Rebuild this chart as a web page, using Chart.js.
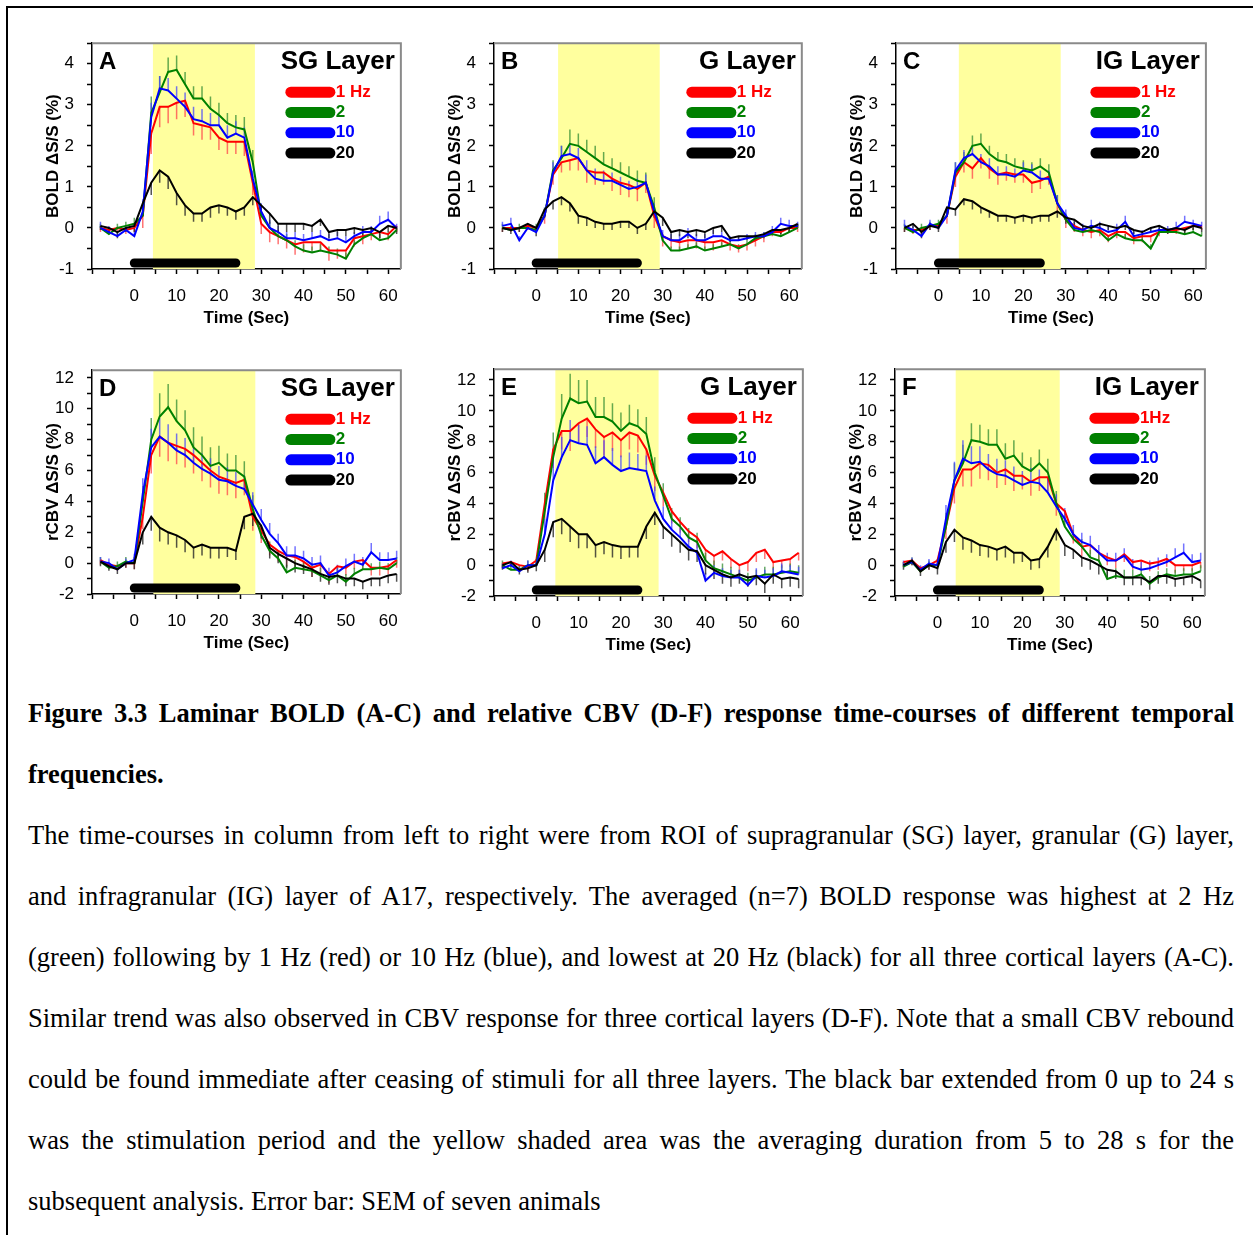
<!DOCTYPE html>
<html>
<head>
<meta charset="utf-8">
<title>Figure 3.3 Laminar BOLD and CBV time-courses</title>
<script src="https://cdn.jsdelivr.net/npm/chart.js@4.4.1/dist/chart.umd.min.js"></script>
<style>
  html, body { margin: 0; padding: 0; background: #fff; }
  body { width: 1253px; height: 1235px; position: relative; overflow: hidden; }
  #frame { position: absolute; left: 6px; top: 6px; width: 1260px; height: 1240px; border-top: 2px solid #000; border-left: 2px solid #000; }
  canvas { position: absolute; }
  #caption { position: absolute; left: 28px; top: 683px; width: 1206px; font-family: "Liberation Serif", "Times New Roman", serif; font-size: 26.5px; line-height: 61px; color: #000; }
  #caption .ln { white-space: nowrap; }
  #caption .j { text-align: justify; text-align-last: justify; }
  #caption .b { font-weight: bold; }
</style>
</head>
<body>
<div id="frame"></div>
<canvas id="chartA"></canvas>
<canvas id="chartB"></canvas>
<canvas id="chartC"></canvas>
<canvas id="chartD"></canvas>
<canvas id="chartE"></canvas>
<canvas id="chartF"></canvas>

<div id="caption">
  <div class="ln b j">Figure 3.3 Laminar BOLD (A-C) and relative CBV (D-F) response time-courses of different temporal</div>
  <div class="ln b">frequencies.</div>
  <div class="ln j">The time-courses in column from left to right were from ROI of supragranular (SG) layer, granular (G) layer,</div>
  <div class="ln j">and infragranular (IG) layer of A17, respectively. The averaged (n=7) BOLD response was highest at 2 Hz</div>
  <div class="ln j">(green) following by 1 Hz (red) or 10 Hz (blue), and lowest at 20 Hz (black) for all three cortical layers (A-C).</div>
  <div class="ln j">Similar trend was also observed in CBV response for three cortical layers (D-F). Note that a small CBV rebound</div>
  <div class="ln j">could be found immediate after ceasing of stimuli for all three layers. The black bar extended from 0 up to 24 s</div>
  <div class="ln j">was the stimulation period and the yellow shaded area was the averaging duration from 5 to 28 s for the</div>
  <div class="ln">subsequent analysis. Error bar: SEM of seven animals</div>
</div>

<script>
// sample times (s), every 2 s
const timeSec = [-8,-6,-4,-2,0,2,4,6,8,10,12,14,16,18,20,22,24,26,28,30,32,34,36,38,40,42,44,46,48,50,52,54,56,58,60,62];

const freqLabels = ['1 Hz', '2', '10', '20'];
const freqLabelsF = ['1Hz', '2', '10', '20'];

// stimulation bar and yellow averaging window (s)
const stimPeriod = [0, 24];
const shadeStart = [4.4, 5.2, 4.8, 4.5, 4.5, 4.3];
const shadeEnd = [28.5, 29.3, 28.8, 28.6, 28.9, 28.8];

// y ranges
const boldRange = [-1, 4.5];
const cbvRangeD = [-2, 12.5];
const cbvRangeEF = [-2, 12.7];

// ---- A: BOLD, SG layer
const aRed = [0.0,-0.05,0.0,-0.05,0.0,0.3, 2.3,2.95,2.95,3.05,3.1,2.55, 2.5,2.45,2.2,2.1,2.1,2.1, 1.1,0.1,-0.1,-0.2,-0.3,-0.4, -0.35,-0.35,-0.35,-0.55,-0.55,-0.55, -0.25,-0.2,-0.15,-0.1,-0.15,0.05];
const aGreen = [0.0,-0.15,0.0,0.05,0.1,0.3, 2.8,3.3,3.8,3.85,3.5,3.15, 3.15,2.9,2.75,2.55,2.45,2.4, 1.6,0.3,0.0,-0.2,-0.3,-0.45, -0.55,-0.6,-0.55,-0.6,-0.65,-0.75, -0.4,-0.25,-0.15,-0.3,-0.25,-0.05];
const aBlue = [0.0,-0.1,-0.2,-0.05,-0.2,0.4, 2.7,3.4,3.35,3.15,2.95,2.65, 2.6,2.5,2.5,2.2,2.3,2.2, 1.2,0.4,0.0,-0.1,-0.25,-0.25, -0.3,-0.25,-0.2,-0.3,-0.25,-0.35, -0.2,-0.1,-0.1,0.1,0.2,0.0];
const aBlack = [0.05,0.0,-0.1,0.0,0.05,0.6, 1.1,1.4,1.25,0.85,0.55,0.35, 0.35,0.5,0.55,0.5,0.4,0.5, 0.75,0.55,0.35,0.1,0.1,0.1, 0.1,0.05,0.2,-0.1,-0.05,-0.05, 0.0,-0.05,0.0,-0.1,0.05,0.0];
const aRedErr = [0.1,0.1,0.1,0.1,0.1,0.3, 0.5,0.5,0.4,0.4,0.4,0.3, 0.35,0.3,0.3,0.3,0.3,0.35, 0.3,0.25,0.25,0.2,0.2,0.25, 0.25,0.2,0.2,0.25,0.2,0.2, 0.2,0.2,0.15,0.15,0.15,0.15];
const aGreenErr = [0.1,0.15,0.1,0.1,0.15,0.3, 0.4,0.4,0.35,0.35,0.3,0.3, 0.3,0.3,0.3,0.25,0.3,0.3, 0.3,0.2,0.15,0.15,0.15,0.15, 0.15,0.15,0.15,0.15,0.15,0.15, 0.1,0.15,0.15,0.15,0.15,0.1];
const aBlueErr = [0.15,0.15,0.1,0.1,0.1,0.3, 0.35,0.3,0.3,0.3,0.35,0.3, 0.3,0.3,0.25,0.3,0.3,0.25, 0.2,0.2,0.2,0.15,0.15,0.15, 0.15,0.15,0.15,0.15,0.15,0.15, 0.1,0.15,0.15,0.2,0.2,0.1];
const aBlackErr = [0.1,0.1,0.15,0.1,0.15,0.2, 0.3,0.3,0.3,0.3,0.25,0.2, 0.2,0.25,0.2,0.2,0.2,0.2, 0.2,0.25,0.25,0.2,0.2,0.2, 0.15,0.15,0.15,0.15,0.15,0.15, 0.15,0.15,0.15,0.15,0.15,0.15];

// ---- B: BOLD, G layer
const bRed = [0.0,0.0,0.0,0.05,0.0,0.3, 1.3,1.6,1.65,1.7,1.4,1.35, 1.35,1.2,1.1,1.05,0.95,1.1, 0.3,-0.2,-0.3,-0.35,-0.3,-0.3, -0.35,-0.35,-0.3,-0.4,-0.45,-0.4, -0.3,-0.2,-0.1,-0.1,0.0,0.0];
const bGreen = [0.0,-0.05,0.0,0.0,-0.05,0.3, 1.4,1.7,2.05,2.0,1.85,1.7, 1.55,1.45,1.35,1.25,1.15,1.1, 0.5,-0.3,-0.55,-0.55,-0.5,-0.45, -0.55,-0.5,-0.45,-0.4,-0.5,-0.4, -0.25,-0.2,-0.15,-0.2,-0.1,0.0];
const bBlue = [0.05,0.1,-0.3,0.0,-0.1,0.3, 1.35,1.75,1.8,1.7,1.4,1.2, 1.15,1.15,1.05,0.95,1.0,1.1, 0.4,-0.2,-0.3,-0.3,-0.15,-0.3, -0.3,-0.2,-0.2,-0.3,-0.3,-0.25, -0.2,-0.2,-0.1,0.1,0.05,0.05];
const bBlack = [0.0,-0.05,0.0,0.1,0.0,0.45, 0.65,0.75,0.6,0.3,0.25,0.15, 0.1,0.1,0.15,0.15,0.0,0.1, 0.4,0.25,-0.1,-0.05,-0.1,-0.05, -0.1,0.0,0.05,-0.25,-0.2,-0.2, -0.2,-0.15,-0.05,-0.05,0.0,0.1];
const bRedErr = [0.1,0.1,0.1,0.1,0.1,0.2, 0.25,0.25,0.25,0.3,0.3,0.3, 0.3,0.3,0.3,0.3,0.3,0.25, 0.3,0.25,0.2,0.2,0.2,0.2, 0.2,0.2,0.15,0.15,0.15,0.15, 0.15,0.15,0.1,0.1,0.1,0.1];
const bGreenErr = [0.1,0.1,0.1,0.1,0.15,0.2, 0.25,0.3,0.35,0.3,0.3,0.3, 0.3,0.25,0.25,0.25,0.25,0.25, 0.25,0.15,0.1,0.1,0.1,0.1, 0.1,0.1,0.1,0.1,0.1,0.1, 0.1,0.1,0.1,0.1,0.1,0.1];
const bBlueErr = [0.1,0.15,0.1,0.1,0.1,0.2, 0.25,0.25,0.25,0.25,0.25,0.25, 0.25,0.2,0.2,0.2,0.2,0.2, 0.2,0.15,0.15,0.15,0.15,0.15, 0.15,0.15,0.1,0.1,0.1,0.1, 0.1,0.1,0.15,0.15,0.15,0.1];
const bBlackErr = [0.1,0.1,0.1,0.1,0.2,0.2, 0.2,0.2,0.2,0.2,0.2,0.15, 0.15,0.15,0.15,0.15,0.15,0.15, 0.15,0.2,0.2,0.15,0.15,0.15, 0.15,0.15,0.15,0.1,0.1,0.1, 0.1,0.1,0.1,0.1,0.1,0.1];

// ---- C: BOLD, IG layer
const cRed = [0.0,-0.05,-0.05,0.05,0.05,0.3, 1.25,1.6,1.45,1.7,1.45,1.3, 1.35,1.3,1.3,1.1,1.15,1.25, 0.6,0.2,0.05,-0.05,-0.1,-0.05, -0.2,-0.1,-0.1,-0.25,-0.2,-0.2, -0.1,-0.05,-0.05,0.0,0.05,0.05];
const cGreen = [0.0,-0.1,0.0,0.05,0.1,0.3, 1.35,1.6,2.0,2.05,1.8,1.65, 1.6,1.5,1.45,1.4,1.5,1.35, 0.6,0.2,-0.05,-0.1,-0.05,-0.1, -0.3,-0.15,-0.25,-0.3,-0.3,-0.5, -0.1,-0.1,-0.1,-0.15,-0.1,-0.2];
const cBlue = [0.05,-0.05,-0.2,0.1,0.0,0.3, 1.4,1.7,1.8,1.6,1.5,1.3, 1.3,1.25,1.4,1.35,1.2,1.2, 0.6,0.3,0.0,-0.05,0.05,0.0, -0.1,-0.05,0.15,-0.2,-0.15,-0.1, -0.05,-0.05,0.0,0.15,0.1,0.05];
const cBlack = [0.0,0.1,-0.1,0.05,0.0,0.5, 0.45,0.7,0.65,0.5,0.4,0.3, 0.3,0.25,0.3,0.25,0.3,0.3, 0.4,0.25,0.2,0.05,0.0,0.1, 0.05,0.0,0.05,-0.05,-0.1,0.0, 0.05,-0.05,0.0,-0.05,0.05,0.0];
const cRedErr = [0.1,0.1,0.1,0.1,0.1,0.2, 0.25,0.25,0.25,0.25,0.25,0.25, 0.2,0.2,0.2,0.25,0.2,0.2, 0.25,0.2,0.15,0.15,0.15,0.15, 0.15,0.15,0.15,0.15,0.15,0.15, 0.1,0.1,0.1,0.1,0.1,0.1];
const cGreenErr = [0.1,0.1,0.1,0.1,0.1,0.2, 0.25,0.25,0.25,0.25,0.2,0.2, 0.2,0.2,0.2,0.2,0.2,0.2, 0.2,0.15,0.1,0.1,0.1,0.1, 0.1,0.1,0.1,0.1,0.1,0.1, 0.1,0.1,0.1,0.1,0.1,0.1];
const cBlueErr = [0.15,0.1,0.1,0.1,0.1,0.2, 0.2,0.2,0.2,0.2,0.2,0.2, 0.2,0.2,0.2,0.2,0.2,0.2, 0.2,0.15,0.15,0.15,0.15,0.15, 0.15,0.15,0.15,0.1,0.1,0.1, 0.1,0.1,0.15,0.15,0.1,0.1];
const cBlackErr = [0.1,0.1,0.15,0.1,0.1,0.15, 0.15,0.15,0.2,0.15,0.15,0.15, 0.15,0.15,0.15,0.15,0.15,0.15, 0.15,0.15,0.15,0.1,0.1,0.1, 0.1,0.1,0.1,0.1,0.1,0.1, 0.1,0.1,0.1,0.1,0.1,0.1];

// ---- D: rCBV, SG layer
const dRed = [0.2,-0.1,-0.2,0.0,0.0,3.0, 7.0,8.2,7.8,7.6,7.4,7.0, 6.5,6.0,5.6,5.4,5.2,5.4, 3.0,2.1,1.2,0.8,0.5,0.4, 0.1,-0.3,-0.1,-0.7,-0.2,-0.3, 0.1,0.2,-0.3,-0.3,-0.2,0.2];
const dGreen = [0.1,-0.3,-0.2,0.1,0.0,4.0, 8.0,9.5,10.1,9.2,8.6,7.5, 7.0,6.3,6.5,6.0,6.0,5.6, 3.5,1.8,0.8,0.3,-0.6,-0.3, -0.4,-0.5,-0.8,-1.1,-0.8,-1.2, -0.7,-0.4,-0.4,-0.3,-0.4,0.0];
const dBlue = [0.1,0.0,-0.4,0.0,0.2,4.5, 7.5,8.2,7.8,7.3,7.0,6.5, 6.1,5.8,5.4,5.3,5.0,4.8, 3.8,2.8,1.9,1.3,0.5,0.5, 0.3,-0.1,0.0,-0.8,-0.6,-0.2, 0.1,-0.1,0.7,0.2,0.2,0.3];
const dBlack = [0.1,-0.2,-0.4,0.0,0.0,2.0, 3.0,2.3,2.0,1.8,1.5,1.0, 1.2,1.0,1.0,1.0,0.8,3.0, 3.2,2.4,1.0,0.6,0.3,0.0, -0.2,-0.4,-0.7,-0.9,-0.8,-1.0, -1.0,-1.2,-1.0,-1.0,-0.8,-0.7];
const dRedErr = [0.3,0.3,0.3,0.3,0.4,0.8, 1.2,1.3,1.2,1.2,1.2,1.2, 1.2,1.1,1.1,1.0,1.0,1.0, 0.9,0.8,0.7,0.7,0.7,0.6, 0.6,0.6,0.6,0.6,0.5,0.5, 0.5,0.5,0.5,0.5,0.5,0.5];
const dGreenErr = [0.3,0.3,0.3,0.3,0.4,1.0, 1.4,1.5,1.5,1.4,1.3,1.3, 1.2,1.2,1.1,1.1,1.0,1.0, 0.9,0.7,0.6,0.5,0.5,0.5, 0.5,0.5,0.5,0.5,0.5,0.5, 0.4,0.4,0.4,0.4,0.4,0.4];
const dBlueErr = [0.3,0.3,0.3,0.3,0.4,1.0, 1.2,1.2,1.2,1.1,1.1,1.0, 1.0,1.0,0.9,0.9,0.9,0.9, 0.8,0.7,0.7,0.6,0.6,0.6, 0.5,0.5,0.5,0.5,0.5,0.5, 0.5,0.5,0.6,0.5,0.5,0.5];
const dBlackErr = [0.3,0.3,0.3,0.3,0.4,0.8, 0.9,0.9,0.8,0.8,0.8,0.7, 0.7,0.7,0.7,0.6,0.6,0.8, 0.8,0.8,0.7,0.6,0.6,0.6, 0.5,0.5,0.5,0.5,0.5,0.5, 0.5,0.5,0.5,0.5,0.5,0.5];

// ---- E: rCBV, G layer
const eRed = [0.1,0.2,0.0,-0.1,0.3,4.0, 7.5,8.7,8.7,9.2,9.5,8.8, 8.3,8.6,8.1,8.6,8.4,7.5, 5.8,4.7,3.5,2.8,2.2,1.8, 1.0,0.6,0.9,0.4,0.0,0.2, 0.8,1.0,0.2,0.3,0.4,0.8];
const eGreen = [0.0,-0.3,-0.3,0.0,0.0,3.5, 7.0,9.5,10.8,10.5,10.6,9.6, 9.6,9.3,8.7,9.2,9.0,8.5, 6.0,4.5,3.0,2.5,1.8,1.5, 0.3,-0.2,-0.4,-0.6,-0.8,-1.0, -0.8,-0.6,-0.6,-0.5,-0.4,-0.5];
const eBlue = [-0.2,0.0,-0.4,0.0,0.0,2.0, 5.5,7.0,8.1,7.9,7.8,6.6, 7.0,6.5,6.1,6.3,6.2,6.1, 4.2,3.0,2.3,1.8,1.2,0.8, -1.0,-0.5,-0.7,-0.8,-0.8,-1.3, -0.7,-0.8,-0.7,-0.4,-0.5,-0.6];
const eBlack = [0.0,0.2,-0.3,-0.2,0.0,1.0, 2.8,3.0,2.5,2.0,2.0,1.3, 1.5,1.3,1.2,1.2,1.2,2.5, 3.4,2.5,2.0,1.5,1.0,0.9, 0.0,-0.3,-0.6,-0.8,-0.6,-0.8, -0.7,-1.2,-0.6,-0.9,-0.8,-0.9];
const eRedErr = [0.3,0.3,0.3,0.3,0.4,1.0, 1.2,1.2,1.3,1.2,1.2,1.2, 1.2,1.2,1.1,1.1,1.1,1.0, 1.0,0.9,0.8,0.7,0.7,0.7, 0.7,0.6,0.6,0.6,0.6,0.6, 0.6,0.6,0.5,0.5,0.5,0.5];
const eGreenErr = [0.3,0.3,0.3,0.3,0.4,1.2, 1.6,1.6,1.6,1.5,1.4,1.3, 1.3,1.2,1.2,1.2,1.1,1.1, 1.0,0.8,0.7,0.6,0.6,0.6, 0.5,0.5,0.5,0.5,0.5,0.5, 0.5,0.5,0.5,0.5,0.5,0.5];
const eBlueErr = [0.3,0.3,0.3,0.3,0.4,1.0, 1.3,1.3,1.3,1.2,1.2,1.1, 1.1,1.1,1.0,1.0,1.0,1.0, 0.9,0.8,0.7,0.6,0.6,0.6, 0.5,0.5,0.5,0.5,0.5,0.5, 0.5,0.5,0.5,0.5,0.5,0.5];
const eBlackErr = [0.3,0.3,0.3,0.3,0.4,0.8, 1.0,1.0,1.0,0.9,0.9,0.8, 0.8,0.8,0.8,0.7,0.7,0.8, 0.8,0.8,0.8,0.7,0.7,0.7, 0.6,0.6,0.6,0.6,0.6,0.6, 0.6,0.6,0.6,0.6,0.6,0.6];

// ---- F: rCBV, IG layer
const fRed = [0.2,0.3,-0.2,0.0,0.3,2.5, 5.0,6.2,6.2,6.6,6.5,6.0, 6.2,5.8,5.8,5.4,5.7,5.7, 4.0,3.5,2.0,1.2,1.3,0.8, 0.5,0.3,0.7,0.2,0.3,0.1, 0.2,0.4,0.0,0.0,0.0,0.2];
const fGreen = [-0.1,0.2,-0.4,0.0,0.0,2.5, 5.5,6.6,8.1,8.0,7.8,7.8, 6.9,7.1,6.4,6.1,6.6,6.0, 4.0,2.5,1.7,1.2,0.5,0.3, -0.9,-0.7,-0.8,-0.8,-0.6,-1.2, -0.8,-0.6,-0.7,-0.6,-0.6,-0.4];
const fBlue = [0.0,0.2,-0.3,0.1,0.0,3.0, 5.5,6.9,6.6,6.7,6.2,5.9, 5.8,5.5,5.2,5.4,5.3,4.7, 3.8,3.0,2.0,1.5,1.3,0.8, 0.3,0.3,0.6,-0.1,-0.3,-0.2, 0.0,0.2,0.5,0.8,0.2,0.3];
const fBlack = [0.0,0.3,-0.4,0.0,-0.2,1.5, 2.3,1.8,1.6,1.3,1.2,1.0, 1.2,0.8,0.8,0.3,0.4,1.2, 2.3,1.3,1.0,0.5,0.3,0.0, -0.3,-0.4,-0.8,-0.8,-0.8,-1.1, -0.7,-0.7,-0.9,-0.8,-0.7,-1.0];
const fRedErr = [0.3,0.3,0.3,0.3,0.4,0.8, 1.0,1.1,1.1,1.0,1.0,1.0, 1.0,1.0,0.9,0.9,0.9,0.9, 0.8,0.7,0.6,0.6,0.6,0.6, 0.5,0.5,0.5,0.5,0.5,0.5, 0.5,0.5,0.5,0.4,0.4,0.4];
const fGreenErr = [0.3,0.3,0.3,0.3,0.4,0.9, 1.1,1.2,1.1,1.1,1.0,1.0, 1.0,1.0,0.9,0.9,0.9,0.9, 0.8,0.7,0.6,0.5,0.5,0.5, 0.5,0.5,0.5,0.5,0.5,0.5, 0.4,0.4,0.4,0.4,0.4,0.4];
const fBlueErr = [0.3,0.3,0.3,0.3,0.4,0.9, 1.2,1.2,1.1,1.0,1.0,1.0, 1.0,0.9,0.9,0.9,0.9,0.9, 0.8,0.7,0.6,0.6,0.6,0.5, 0.5,0.5,0.5,0.5,0.5,0.5, 0.5,0.5,0.6,0.6,0.5,0.5];
const fBlackErr = [0.3,0.3,0.3,0.3,0.4,0.7, 0.8,0.8,0.8,0.7,0.7,0.7, 0.7,0.7,0.6,0.6,0.6,0.7, 0.7,0.7,0.6,0.6,0.6,0.6, 0.5,0.5,0.5,0.5,0.5,0.5, 0.5,0.5,0.5,0.5,0.5,0.5];

// styles
const lineColors = ['#ff0000', '#008000', '#0000ff', '#000000'];
const errColors = ['rgba(255,80,80,0.8)', 'rgba(50,140,50,0.75)', 'rgba(70,70,255,0.75)', 'rgba(40,40,40,0.8)'];
const errDirs = [-1, 1, 1, -1]; // one-sided SEM bars

Chart.defaults.font.family = '"Liberation Sans", Arial, sans-serif';
Chart.defaults.color = '#000';

// plot rectangles [left, top, right, bottom] on the page
const panels = [
  { key: 'A', layer: 'SG Layer', yTitle: 'BOLD ΔS/S (%)', range: boldRange, plot: [92, 43, 401, 269], labels: freqLabels,
    series: [aRed, aGreen, aBlue, aBlack], errs: [aRedErr, aGreenErr, aBlueErr, aBlackErr] },
  { key: 'B', layer: 'G Layer', yTitle: 'BOLD ΔS/S (%)', range: boldRange, plot: [494, 43, 802, 269], labels: freqLabels,
    series: [bRed, bGreen, bBlue, bBlack], errs: [bRedErr, bGreenErr, bBlueErr, bBlackErr] },
  { key: 'C', layer: 'IG Layer', yTitle: 'BOLD ΔS/S (%)', range: boldRange, plot: [896, 43, 1206, 269], labels: freqLabels,
    series: [cRed, cGreen, cBlue, cBlack], errs: [cRedErr, cGreenErr, cBlueErr, cBlackErr] },
  { key: 'D', layer: 'SG Layer', yTitle: 'rCBV ΔS/S (%)', range: cbvRangeD, plot: [92, 370, 401, 594], labels: freqLabels,
    series: [dRed, dGreen, dBlue, dBlack], errs: [dRedErr, dGreenErr, dBlueErr, dBlackErr] },
  { key: 'E', layer: 'G Layer', yTitle: 'rCBV ΔS/S (%)', range: cbvRangeEF, plot: [494, 369, 803, 596], labels: freqLabels,
    series: [eRed, eGreen, eBlue, eBlack], errs: [eRedErr, eGreenErr, eBlueErr, eBlackErr] },
  { key: 'F', layer: 'IG Layer', yTitle: 'rCBV ΔS/S (%)', range: cbvRangeEF, plot: [895, 369, 1205, 596], labels: freqLabelsF,
    series: [fRed, fGreen, fBlue, fBlack], errs: [fRedErr, fGreenErr, fBlueErr, fBlackErr] }
];

// shading, error bars, stim bar, frame and in-plot legend
const decoPlugin = {
  id: 'deco',
  beforeDatasetsDraw(chart, args, opts) {
    const ctx = chart.ctx, ca = chart.chartArea, x = chart.scales.x, y = chart.scales.y;
    ctx.save();
    ctx.beginPath();
    ctx.rect(ca.left, ca.top, ca.right - ca.left, ca.bottom - ca.top);
    ctx.clip();

    const x0 = x.getPixelForValue(opts.shade[0]);
    const x1 = x.getPixelForValue(opts.shade[1]);
    ctx.fillStyle = '#ffff9e';
    ctx.fillRect(x0, ca.top, x1 - x0, ca.bottom - ca.top);

    ctx.lineWidth = 1.5;
    chart.data.datasets.forEach(function (ds) {
      ctx.strokeStyle = ds.errColor;
      ds.data.forEach(function (p, i) {
        const px = x.getPixelForValue(p.x);
        ctx.beginPath();
        ctx.moveTo(px, y.getPixelForValue(p.y));
        ctx.lineTo(px, y.getPixelForValue(p.y + ds.errDir * ds.err[i]));
        ctx.stroke();
      });
    });
    ctx.restore();
  },
  afterDatasetsDraw(chart, args, opts) {
    const ctx = chart.ctx, ca = chart.chartArea, x = chart.scales.x;
    ctx.save();
    ctx.strokeStyle = '#000';
    ctx.lineWidth = 9;
    ctx.lineCap = 'round';
    ctx.beginPath();
    ctx.moveTo(x.getPixelForValue(opts.stim[0]), ca.bottom - 6);
    ctx.lineTo(x.getPixelForValue(opts.stim[1]), ca.bottom - 6);
    ctx.stroke();
    ctx.restore();
  },
  afterDraw(chart, args, opts) {
    const ctx = chart.ctx, ca = chart.chartArea;
    ctx.save();
    // grey box on top and right
    ctx.strokeStyle = '#8a8a8a';
    ctx.lineWidth = 2;
    ctx.beginPath();
    ctx.moveTo(ca.left, ca.top);
    ctx.lineTo(ca.right, ca.top);
    ctx.lineTo(ca.right, ca.bottom);
    ctx.stroke();

    ctx.textBaseline = 'middle';
    ctx.fillStyle = '#000';
    ctx.font = 'bold 24px "Liberation Sans", Arial, sans-serif';
    ctx.textAlign = 'left';
    ctx.fillText(opts.letter, ca.left + 7, ca.top + 19);
    ctx.font = 'bold 26px "Liberation Sans", Arial, sans-serif';
    ctx.textAlign = 'right';
    ctx.fillText(opts.layer, ca.right - 6, ca.top + 19);

    ctx.font = 'bold 17px "Liberation Sans", Arial, sans-serif';
    ctx.textAlign = 'left';
    ctx.lineCap = 'round';
    ctx.lineWidth = 11;
    opts.labels.forEach(function (lab, i) {
      const ly = ca.top + 49 + i * 20.3;
      ctx.strokeStyle = lineColors[i];
      ctx.beginPath();
      ctx.moveTo(ca.right - 110, ly);
      ctx.lineTo(ca.right - 71, ly);
      ctx.stroke();
      ctx.fillStyle = lineColors[i];
      ctx.fillText(lab, ca.right - 65, ly);
    });
    ctx.restore();
  }
};

panels.forEach(function (p, idx) {
  const canvas = document.getElementById('chart' + p.key);
  // chart area ends up 23px below the canvas top (layout padding + y label room)
  const w = p.plot[2] - p.plot[0] + 71;
  const h = p.plot[3] - p.plot[1] + 84;
  canvas.width = w;
  canvas.height = h;
  canvas.style.left = (p.plot[0] - 62) + 'px';
  canvas.style.top = (p.plot[1] - 23) + 'px';
  canvas.style.width = w + 'px';
  canvas.style.height = h + 'px';

  const isBold = p.range === boldRange;

  new Chart(canvas.getContext('2d'), {
    type: 'line',
    data: {
      datasets: p.series.map(function (vals, i) {
        return {
          label: p.labels[i],
          data: timeSec.map(function (t, j) { return { x: t, y: vals[j] } }),
          err: p.errs[i],
          errDir: errDirs[i],
          errColor: errColors[i],
          borderColor: lineColors[i],
          borderWidth: 2,
          pointRadius: 0,
          tension: 0,
          fill: false,
          order: 4 - i
        }
      })
    },
    options: {
      responsive: false,
      animation: false,
      layout: { padding: { left: 0, top: 13, right: 9, bottom: 0 } },
      plugins: {
        legend: { display: false },
        tooltip: { enabled: false },
        deco: {
          letter: p.key,
          layer: p.layer,
          labels: p.labels,
          shade: [shadeStart[idx], shadeEnd[idx]],
          stim: stimPeriod
        }
      },
      scales: {
        x: {
          type: 'linear',
          min: -10,
          max: 63,
          afterFit: function (s) { s.height = 61 },
          ticks: {
            stepSize: 5,
            includeBounds: false,
            autoSkip: false,
            maxRotation: 0,
            padding: 12,
            font: { size: 17 },
            callback: function (v) { return (v >= 0 && v % 10 === 0) ? v : '' }
          },
          grid: { drawOnChartArea: false, tickLength: 5, tickColor: '#000', tickWidth: 1.5 },
          border: { color: '#000', width: 1.5 },
          title: { display: true, text: 'Time (Sec)', font: { size: 17, weight: 'bold' }, padding: { top: 0, bottom: 1 } }
        },
        y: {
          type: 'linear',
          min: p.range[0],
          max: p.range[1],
          afterFit: function (s) { s.width = 62 },
          ticks: {
            stepSize: isBold ? 0.5 : 1,
            includeBounds: false,
            autoSkip: false,
            padding: 13,
            font: { size: 17 },
            callback: function (v) {
              const r = Math.round(v);
              if (Math.abs(v - r) > 1e-6) return '';
              if (!isBold && r % 2 !== 0) return '';
              return r;
            }
          },
          grid: { drawOnChartArea: false, tickLength: 5, tickColor: '#000', tickWidth: 1.5 },
          border: { color: '#000', width: 1.5 },
          title: { display: true, text: p.yTitle, font: { size: 17, weight: 'bold' }, padding: { top: 13, bottom: 0 } }
        }
      }
    },
    plugins: [decoPlugin]
  });
});
</script>
</body>
</html>
